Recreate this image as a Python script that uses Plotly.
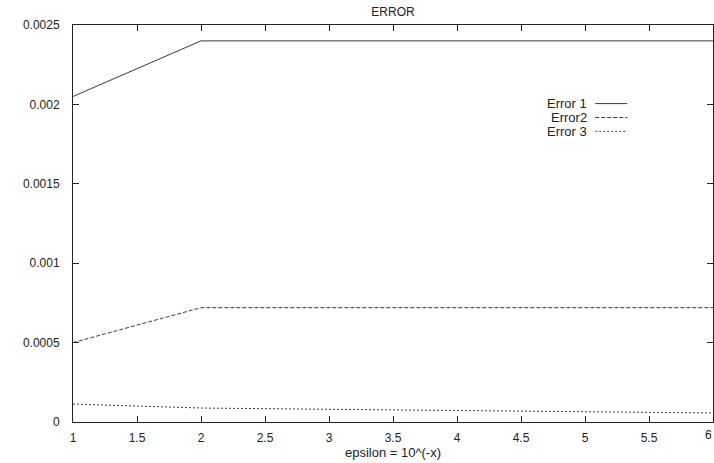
import plotly.graph_objects as go

x = [1, 2, 3, 4, 5, 6]
error1 = [0.00205, 0.0024, 0.0024, 0.0024, 0.0024, 0.0024]
error2 = [0.0005, 0.00072, 0.00072, 0.00072, 0.00072, 0.00072]
error3 = [0.000113, 0.000088, 0.00008, 0.000072, 0.000064, 0.000057]
names = ["Error 1", "Error2", "Error 3"]
dashes = ["solid", "4px,2px", "2px,2px"]
ytickvals = [0, 0.0005, 0.001, 0.0015, 0.002, 0.0025]
yticktext = ["0", "0.0005", "0.001", "0.0015", "0.002", "0.0025"]
xtickvals = [1, 1.5, 2, 2.5, 3, 3.5, 4, 4.5, 5, 5.5, 6]
xticktext = ["1", "1.5", "2", "2.5", "3", "3.5", "4", "4.5", "5", "5.5", "6"]

FONT = "Liberation Sans, Arial, sans-serif"
LC = "#3a3a3a"
FS = 12

fig = go.Figure()
for nm, ys, d in zip(names, [error1, error2, error3], dashes):
    fig.add_trace(go.Scatter(x=x, y=ys, mode="lines", name=nm,
                             line=dict(color=LC, width=1, dash=d),
                             showlegend=False))

# gnuplot-style legend: text right aligned, sample on the right
leg_y = [0.802, 0.767, 0.732]
for i, (nm, d) in enumerate(zip(names, dashes)):
    fig.add_annotation(x=0.804, y=leg_y[i], xref="paper", yref="paper",
                       text=nm, showarrow=False, xanchor="right", yanchor="middle",
                       borderpad=0,
                       font=dict(family=FONT, size=FS + 1, color="#222"))
    fig.add_shape(type="line", xref="paper", yref="paper",
                  x0=0.816, x1=0.866, y0=leg_y[i], y1=leg_y[i],
                  line=dict(color=LC, width=1, dash=d))

# last tick label sits at the page edge; keep it fully visible
fig.add_annotation(x=xtickvals[-1], y=0, xref="x", yref="paper",
                   text=xticktext[-1], showarrow=False, xanchor="right",
                   yanchor="top", yshift=-5, borderpad=0,
                   font=dict(family=FONT, size=FS, color="#222"))

fig.update_layout(
    width=714, height=463,
    margin=dict(l=73, r=1, t=25, b=41),
    paper_bgcolor="white", plot_bgcolor="white",
    title=dict(text="ERROR", x=0.5, xref="paper", xanchor="center",
               y=0.975, yanchor="middle",
               font=dict(family=FONT, size=FS, color="#222")),
    font=dict(family=FONT, size=FS, color="#222"),
)
fig.update_xaxes(range=[1, 6], tickvals=xtickvals, ticktext=xticktext,
                 ticks="inside", ticklen=6, tickcolor="#222", mirror="ticks",
                 showline=True, linecolor="#222", linewidth=1, showgrid=False,
                 zeroline=False,
                 title=dict(text="epsilon = 10^(-x)", standoff=0,
                            font=dict(family=FONT, size=FS + 1, color="#222")),
                 ticklabelstandoff=5)
fig.update_yaxes(range=[0, 0.0025], tickvals=ytickvals, ticktext=yticktext,
                 ticks="inside", ticklen=6, tickcolor="#222", mirror="ticks",
                 showline=True, linecolor="#222", linewidth=1, showgrid=False,
                 zeroline=False, ticklabelstandoff=10)

fig.write_html("out.html")
